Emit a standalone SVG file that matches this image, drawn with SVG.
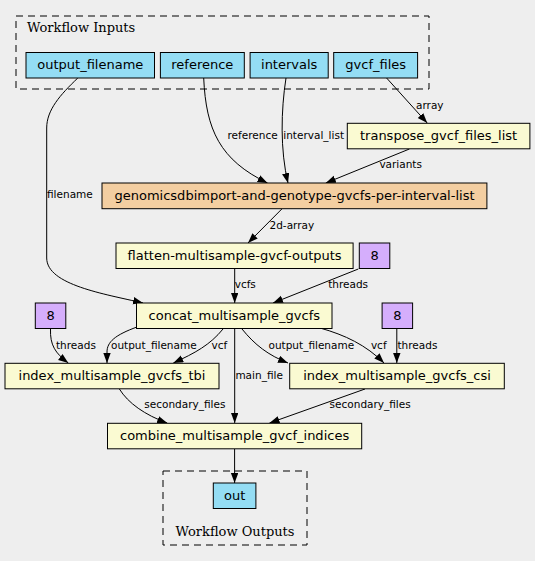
<svg xmlns="http://www.w3.org/2000/svg" width="535" height="561" viewBox="0 0 535 561">
<defs>
<marker id="arr" markerUnits="userSpaceOnUse" markerWidth="11" markerHeight="9" refX="10" refY="3.7" orient="auto">
<path d="M0,0 L10,3.7 L0,7.4 z" fill="#000"/>
</marker>
<style>
.n rect{stroke:#000;stroke-width:1}
.n text{font-family:"DejaVu Sans",sans-serif;font-size:13px;text-anchor:middle;fill:#000}
.in rect{fill:#94ddf4}
.tool rect{fill:#fafad2}
.sub rect{fill:#f3cea1}
.val rect{fill:#d5aefc}
.cl{fill:none;stroke:#000;stroke-width:1;stroke-dasharray:7,5}
.ct{font-family:"DejaVu Serif",serif;font-size:13px;fill:#000}
#edges path{fill:none;stroke:#000;stroke-width:1;marker-end:url(#arr)}
#edges text{font-family:"DejaVu Sans",sans-serif;font-size:10.5px;fill:#000}
</style>
</defs>
<rect width="535" height="561" fill="#eeeeee"/>
<g id="cluster_inputs">
<rect class="cl" x="16" y="16" width="413" height="73"/>
<text class="ct" x="27" y="31.5">Workflow Inputs</text>
</g>
<g id="cluster_outputs">
<rect class="cl" x="163" y="471" width="144" height="74"/>
<text class="ct" x="235" y="536" text-anchor="middle">Workflow Outputs</text>
</g>
<g id="edges">
<path d="M77.8,78 C60,95 46.7,110 46.7,128 L46.7,258 C46.7,285 105,294 143,303"/>
<text x="47" y="198">filename</text>
<path d="M203.7,78 C206,130 220,160 267.5,183"/>
<text x="227.5" y="138.5">reference</text>
<path d="M286,78 C281,110 280,150 288,183"/>
<text x="283.3" y="138.5">interval_list</text>
<path d="M386.6,78 L427.2,123"/>
<text x="416" y="109">array</text>
<path d="M409.4,149 L325.8,183"/>
<text x="379.4" y="168">variants</text>
<path d="M281.8,209 L248,243"/>
<text x="269.5" y="228.5">2d-array</text>
<path d="M234.7,269 L234.7,303"/>
<text x="234.7" y="288">vcfs</text>
<path d="M358.3,269 L273,303"/>
<text x="328.2" y="288">threads</text>
<path d="M50.5,329 C50,345 55,353 68.3,363"/>
<text x="56" y="348.5">threads</text>
<path d="M137,327 C115,335 107,342 107,352 L107,363"/>
<text x="111" y="348.5">output_filename</text>
<path d="M223,329 C210,345 195,353 173.3,363"/>
<text x="211.5" y="348.5">vcf</text>
<path d="M234.7,329 L234.7,423"/>
<text x="235.4" y="378.5">main_file</text>
<path d="M242,329 C255,345 268,355 288,363"/>
<text x="268.5" y="348.5">output_filename</text>
<path d="M320,328 C345,335 366,345 384,363"/>
<text x="370.9" y="348.5">vcf</text>
<path d="M396.8,329 L396.8,363"/>
<text x="397.5" y="348.5">threads</text>
<path d="M119.4,389 C128,403 145,415 167.2,423"/>
<text x="144.3" y="408">secondary_files</text>
<path d="M365,389 L269.5,423"/>
<text x="329.6" y="408">secondary_files</text>
<path d="M234.6,449 L234.6,483"/>
</g>
<g id="output_filename" class="n in"><rect x="26" y="52.5" width="128.5" height="25.5"/><text x="90.3" y="69">output_filename</text></g>
<g id="reference" class="n in"><rect x="160.4" y="52.5" width="83.9" height="25.5"/><text x="202.3" y="69">reference</text></g>
<g id="intervals" class="n in"><rect x="250.1" y="52.5" width="78.1" height="25.5"/><text x="289.2" y="69">intervals</text></g>
<g id="gvcf_files" class="n in"><rect x="333.7" y="52.5" width="83.9" height="25.5"/><text x="375.7" y="69">gvcf_files</text></g>
<g id="transpose_gvcf_files_list" class="n tool"><rect x="347.3" y="123.3" width="182.6" height="25.5"/><text x="438.6" y="140">transpose_gvcf_files_list</text></g>
<g id="genomicsdbimport" class="n sub"><rect x="102" y="183" width="384.9" height="25.7"/><text x="294.5" y="200">genomicsdbimport-and-genotype-gvcfs-per-interval-list</text></g>
<g id="flatten" class="n tool"><rect x="116" y="243" width="237.1" height="25.5"/><text x="234.6" y="260">flatten-multisample-gvcf-outputs</text></g>
<g id="threads_top" class="n val"><rect x="359.3" y="243" width="30.5" height="25.5"/><text x="374.6" y="260">8</text></g>
<g id="concat" class="n tool"><rect x="136.5" y="303" width="195.5" height="25.5"/><text x="234.3" y="320">concat_multisample_gvcfs</text></g>
<g id="threads_left" class="n val"><rect x="35.3" y="303" width="30.5" height="25.5"/><text x="50.6" y="320">8</text></g>
<g id="threads_right" class="n val"><rect x="382.1" y="303" width="30.5" height="25.5"/><text x="397.3" y="320">8</text></g>
<g id="index_tbi" class="n tool"><rect x="5" y="363.3" width="214" height="25.5"/><text x="112" y="380">index_multisample_gvcfs_tbi</text></g>
<g id="index_csi" class="n tool"><rect x="289.7" y="363.3" width="214.6" height="25.5"/><text x="397" y="380">index_multisample_gvcfs_csi</text></g>
<g id="combine" class="n tool"><rect x="107.5" y="423.3" width="254.2" height="25.5"/><text x="234.6" y="440">combine_multisample_gvcf_indices</text></g>
<g id="out" class="n in"><rect x="213.3" y="483" width="42.6" height="25.5"/><text x="234.6" y="500">out</text></g>
</svg>
